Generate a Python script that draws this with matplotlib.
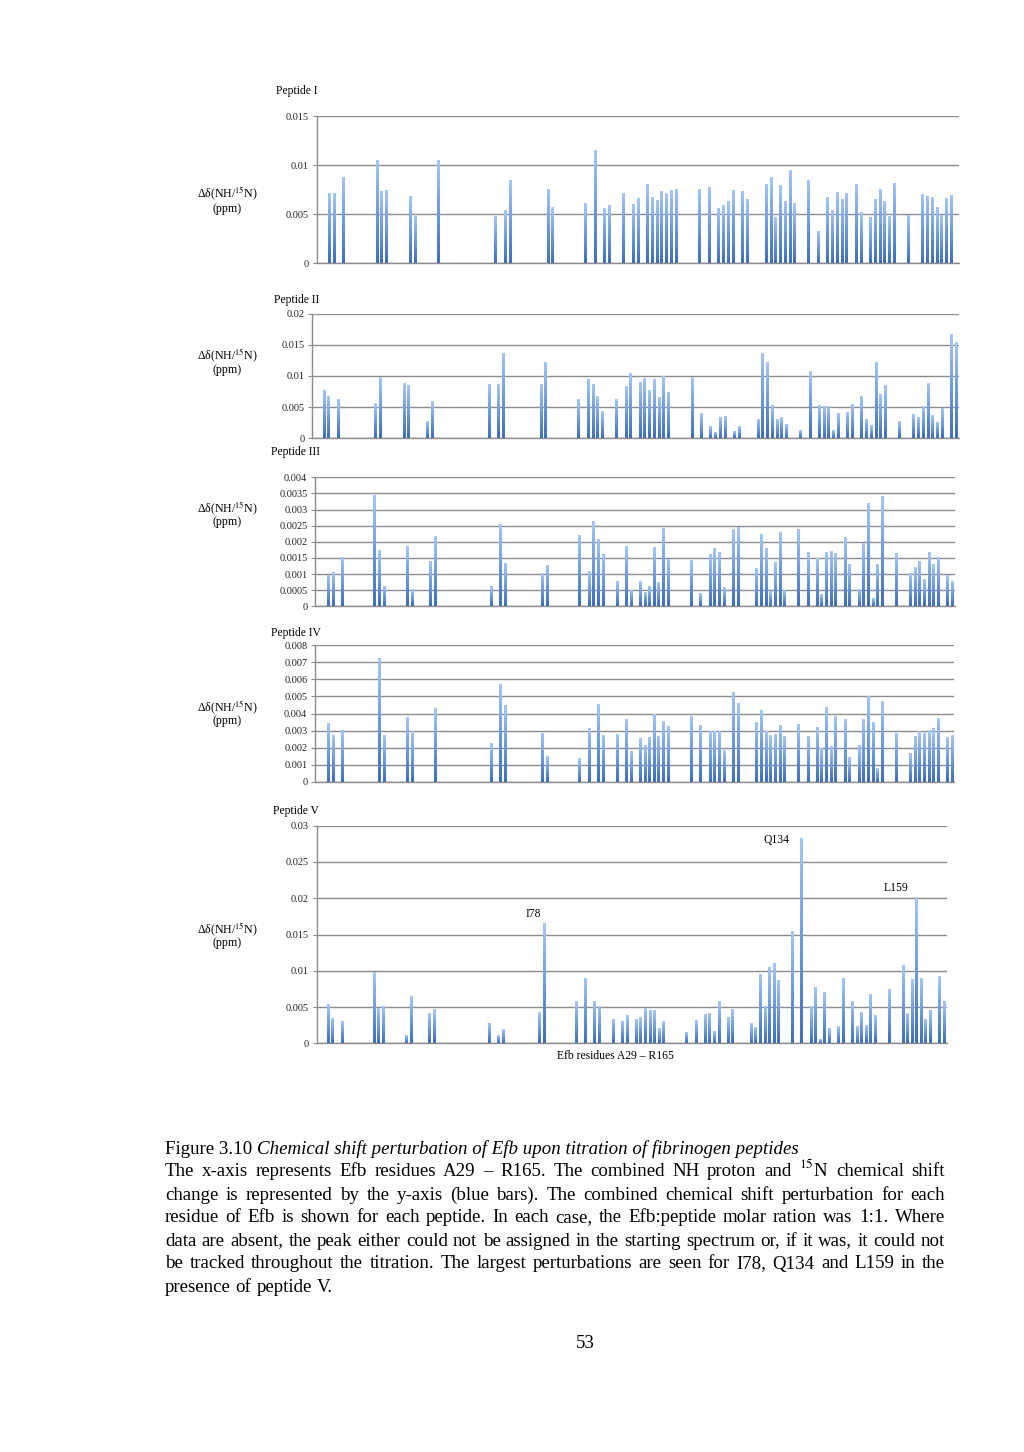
import numpy as np
import matplotlib
matplotlib.use('Agg')
import matplotlib.pyplot as plt
from matplotlib.colors import LinearSegmentedColormap

plt.rcParams['font.family'] = ['Liberation Serif', 'DejaVu Serif']
plt.rcParams['mathtext.fontset'] = 'stix'

# ---------------- data (Efb residue number, chemical shift perturbation in ppm) ----------------
res_I = [31, 32, 34, 41, 42, 43, 48, 49, 54, 66, 68, 69, 77, 78, 85, 87, 89, 90, 93, 95, 96,
         98, 99, 100, 101, 102, 103, 104, 109, 111, 113, 114, 115, 116, 118, 119,
         123, 124, 125, 126, 127, 128, 129, 132, 134, 136, 137, 138, 139, 140, 142, 143,
         145, 146, 147, 148, 149, 150, 153, 156, 157, 158, 159, 160, 161, 162]
val_I = [0.00706, 0.00706, 0.00869, 0.01042, 0.00726, 0.00736, 0.00675, 0.00472, 0.01042,
         0.00472, 0.00533, 0.00838, 0.00747, 0.00563, 0.00604, 0.01144, 0.00553, 0.00584,
         0.00706, 0.00594, 0.00655, 0.00797, 0.00665, 0.00635, 0.00726, 0.00706, 0.00736,
         0.00747, 0.00747, 0.00767, 0.00553, 0.00584, 0.00624, 0.00736, 0.00726, 0.00645,
         0.00797, 0.00869, 0.00462, 0.00787, 0.00624, 0.0094, 0.00604, 0.00838, 0.00319,
         0.00665, 0.00533, 0.00716, 0.00645, 0.00706, 0.00797, 0.00512, 0.00462, 0.00645,
         0.00747, 0.00624, 0.00472, 0.00808, 0.00482, 0.00696, 0.00675, 0.00665, 0.00563,
         0.00482, 0.00655, 0.00686]

res_II = [31, 32, 34, 42, 43, 48, 49, 53, 54, 66, 68, 69, 77, 78, 85, 87, 88, 89, 90, 93, 95,
          96, 98, 99, 100, 101, 102, 103, 104, 109, 111, 113, 114, 115, 116, 118, 119,
          123, 124, 125, 126, 127, 128, 129, 132, 134, 136, 137, 138, 139, 140, 142, 143,
          145, 146, 147, 148, 149, 150, 153, 156, 157, 158, 159, 160, 161, 162, 164, 165]
val_II = [0.00759, 0.00663, 0.00615, 0.00551, 0.00968, 0.00872, 0.0084, 0.00262, 0.00583,
          0.00856, 0.00856, 0.01353, 0.00856, 0.01209, 0.00615, 0.00936, 0.00856, 0.00663,
          0.00422, 0.00615, 0.00824, 0.01032, 0.00888, 0.00952, 0.00759, 0.00936, 0.00647,
          0.00984, 0.00727, 0.00968, 0.0039, 0.00182, 0.00086, 0.00326, 0.00342, 0.00102,
          0.00182, 0.00294, 0.01353, 0.01209, 0.00519, 0.00294, 0.00326, 0.00214, 0.00118,
          0.01064, 0.00519, 0.00503, 0.00503, 0.00118, 0.0039, 0.00406, 0.00535, 0.00663,
          0.00294, 0.00198, 0.01209, 0.00695, 0.0084, 0.00262, 0.00374, 0.00326, 0.00503,
          0.00872, 0.00358, 0.00246, 0.00471, 0.01658, 0.0153]

res_III = [31, 32, 34, 41, 42, 43, 48, 49, 53, 54, 66, 68, 69, 77, 78, 85, 87, 88, 89, 90, 93,
           95, 96, 98, 99, 100, 101, 102, 103, 104, 109, 111, 113, 114, 115, 116, 118, 119,
           123, 124, 125, 126, 127, 128, 129, 132, 134, 136, 137, 138, 139, 140, 142, 143,
           145, 146, 147, 148, 149, 150, 153, 156, 157, 158, 159, 160, 161, 162, 164, 165]
val_III = [0.00094, 0.00103, 0.0015, 0.00342, 0.00172, 0.0006, 0.00184, 0.00051, 0.00137,
           0.00215, 0.0006, 0.00252, 0.00131, 0.001, 0.00125, 0.00218, 0.00106, 0.00261,
           0.00206, 0.00159, 0.00075, 0.00184, 0.00048, 0.00075, 0.00041, 0.0006, 0.00181,
           0.00072, 0.0024, 0.00144, 0.00141, 0.00038, 0.00159, 0.00178, 0.00165, 0.00057,
           0.00237, 0.00243, 0.00116, 0.00221, 0.00178, 0.00044, 0.00134, 0.00227, 0.00048,
           0.00237, 0.00165, 0.00147, 0.00035, 0.00165, 0.00168, 0.00162, 0.00212, 0.00128,
           0.00051, 0.00193, 0.00317, 0.00023, 0.00128, 0.00339, 0.00162, 0.001, 0.00119,
           0.00137, 0.00082, 0.00165, 0.00128, 0.0015, 0.00094, 0.00075]

res_IV = [31, 32, 34, 42, 43, 48, 49, 54, 66, 68, 69, 77, 78, 85, 87, 89, 90, 93, 95, 96,
          98, 99, 100, 101, 102, 103, 104, 109, 111, 113, 114, 115, 116, 118, 119,
          123, 124, 125, 126, 127, 128, 129, 132, 134, 136, 137, 138, 139, 140, 142, 143,
          145, 146, 147, 148, 149, 150, 153, 156, 157, 158, 159, 160, 161, 162, 164, 165]
val_IV = [0.00344, 0.00274, 0.00303, 0.00726, 0.00274, 0.00379, 0.00297, 0.00432, 0.00227,
          0.00573, 0.0045, 0.00286, 0.00151, 0.00139, 0.00315, 0.00456, 0.00274, 0.0028,
          0.00368, 0.0018, 0.00256, 0.00215, 0.00262, 0.00397, 0.00268, 0.00356, 0.00327,
          0.00385, 0.00333, 0.00297, 0.00297, 0.00297, 0.00186, 0.00526, 0.00462, 0.0035,
          0.00421, 0.00297, 0.00274, 0.0028, 0.00333, 0.00268, 0.00338, 0.00268, 0.00321,
          0.00198, 0.00438, 0.00209, 0.00385, 0.00368, 0.00145, 0.00215, 0.00368, 0.00503,
          0.0035, 0.0008, 0.00473, 0.00286, 0.00168, 0.00268, 0.00297, 0.00286, 0.00303,
          0.00315, 0.00374, 0.00262, 0.00274]

res_V = [31, 32, 34, 41, 42, 43, 48, 49, 53, 54, 66, 68, 69, 77, 78, 85, 87, 89, 90, 93, 95,
         96, 98, 99, 100, 101, 102, 103, 104, 109, 111, 113, 114, 115, 116, 118, 119,
         123, 124, 125, 126, 127, 128, 129, 132, 134, 136, 137, 138, 139, 140, 142, 143,
         145, 146, 147, 148, 149, 150, 153, 156, 157, 158, 159, 160, 161, 162, 164, 165]
val_V = [0.00528, 0.00335, 0.00294, 0.00969, 0.00469, 0.00501, 0.0011, 0.00639, 0.00413,
         0.00459, 0.00266, 0.00101, 0.00184, 0.00423, 0.01645, 0.0057, 0.00887, 0.00579,
         0.00505, 0.00322, 0.00294, 0.00377, 0.00322, 0.00345, 0.00469, 0.00446, 0.00446,
         0.00198, 0.00294, 0.00138, 0.00308, 0.0039, 0.004, 0.00156, 0.0057, 0.00349,
         0.00459, 0.00266, 0.00211, 0.00942, 0.00501, 0.01038, 0.01093, 0.00859, 0.01544,
         0.02816, 0.00501, 0.00763, 0.00055, 0.00694, 0.00198, 0.00225, 0.00887, 0.00579,
         0.00225, 0.00418, 0.00239, 0.00666, 0.00377, 0.00735, 0.01066, 0.00404, 0.00873,
         0.02003, 0.00887, 0.00322, 0.00446, 0.00914, 0.0057]

ticks_I = [0, 0.005, 0.01, 0.015]
ticklab_I = ['0', '0.005', '0.01', '0.015']
ticks_II = [0, 0.005, 0.01, 0.015, 0.02]
ticklab_II = ['0', '0.005', '0.01', '0.015', '0.02']
ticks_III = [0, 0.0005, 0.001, 0.0015, 0.002, 0.0025, 0.003, 0.0035, 0.004]
ticklab_III = ['0', '0.0005', '0.001', '0.0015', '0.002', '0.0025', '0.003', '0.0035', '0.004']
ticks_IV = [0, 0.001, 0.002, 0.003, 0.004, 0.005, 0.006, 0.007, 0.008]
ticklab_IV = ['0', '0.001', '0.002', '0.003', '0.004', '0.005', '0.006', '0.007', '0.008']
ticks_V = [0, 0.005, 0.01, 0.015, 0.02, 0.025, 0.03]
ticklab_V = ['0', '0.005', '0.01', '0.015', '0.02', '0.025', '0.03']

titles = ['Peptide I', 'Peptide II', 'Peptide III', 'Peptide IV', 'Peptide V']
highlights = [(78, 'I78'), (134, 'Q134'), (159, 'L159')]

# ---------------- figure ----------------
W, H = 1024, 1452
fig = plt.figure(figsize=(W / 100, H / 100), dpi=100)

def fx(x):
    return x / W

def fy(y):
    return 1 - y / H

def axes_px(left, right, top, bottom):
    return fig.add_axes([fx(left), fy(bottom), (right - left) / W, (bottom - top) / H])

cmap = LinearSegmentedColormap.from_list('bar', ['#3f6ebf', '#6f9be0', '#a6c6f3'])
grad = np.linspace(0, 1, 64).reshape(-1, 1)
GRID = '#8c8c8c'

panels = [
    (res_I, val_I, ticks_I, ticklab_I, (28.26, 163.62), (316.7, 959, 116, 263.3), (276, 91), (193, 209)),
    (res_II, val_II, ticks_II, ticklab_II, (28.52, 165.57), (312.3, 959, 313.7, 438.3), (274, 300), (355, 370)),
    (res_III, val_III, ticks_III, ticklab_III, (28.14, 165.58), (315, 955, 477.3, 606.3), (271, 452), (508, 522)),
    (res_IV, val_IV, ticks_IV, ticklab_IV, (28.14, 165.43), (315, 954.3, 645.3, 781.7), (271, 633), (707, 721)),
    (res_V, val_V, ticks_V, ticklab_V, (28.48, 165.52), (316.7, 946.7, 825.7, 1043.3), (273, 811), (929, 943)),
]

axes = []
for i, (res, val, tks, tkl, xl, box, tpos, ypos) in enumerate(panels):
    assert len(res) == len(val), (i, len(res), len(val))
    ax = axes_px(*box)
    bars = ax.bar(res, val, width=0.62, color='none', edgecolor='none', zorder=3)
    for p in bars:
        x0, w, h = p.get_x(), p.get_width(), p.get_height()
        ax.imshow(grad, extent=(x0, x0 + w, 0, h), origin='lower', aspect='auto',
                  cmap=cmap, zorder=3, interpolation='bilinear')
    ax.set_xlim(*xl)
    ax.set_ylim(0, tks[-1])
    ax.set_yticks(tks)
    ax.set_yticklabels(tkl)
    ax.set_xticks([])
    ax.yaxis.grid(True, color=GRID, lw=1.0)
    ax.set_axisbelow(True)
    for s in ['top', 'right']:
        ax.spines[s].set_visible(False)
    for s in ['left', 'bottom']:
        ax.spines[s].set_color(GRID)
        ax.spines[s].set_linewidth(1.0)
    ax.tick_params(axis='y', length=3, width=0.8, color=GRID, pad=2.5, labelsize=7.4,
                   labelcolor='#222222')
    fig.text(fx(tpos[0]), fy(tpos[1]), titles[i], ha='left', va='center', fontsize=8.4)
    fig.text(fx(227), fy(ypos[0]), 'Δδ(NH/$^{15}$N)', ha='center', va='center', fontsize=8.6)
    fig.text(fx(227), fy(ypos[1]), '(ppm)', ha='center', va='center', fontsize=8.6)
    axes.append(ax)

axV = axes[-1]
offsets = {'I78': (-8, 7), 'Q134': (-18, -1), 'L159': (-15, 7)}
for r, lab in highlights:
    v = val_V[res_V.index(r)]
    axV.annotate(lab, xy=(r, v), xytext=offsets[lab], textcoords='offset points',
                 ha='center', va='center', fontsize=8.4)

fig.text(fx(615), fy(1056), 'Efb residues A29 – R165', ha='center', va='center', fontsize=8.4)

# ---------------- caption ----------------
renderer = fig.canvas.get_renderer()
FS = 13.6

def width_of(s, **kw):
    t = fig.text(0, 0, s, fontsize=FS, **kw)
    w = t.get_window_extent(renderer).width
    t.remove()
    return w

X0, X1 = 165, 945
space_w = width_of('a a') - width_of('aa')

# first line: regular + italic
base1 = 1154
fig.text(fx(X0), fy(base1), 'Figure 3.10', fontsize=FS, va='baseline', ha='left')
wfig = width_of('Figure 3.10')
fig.text(fx(X0 + wfig + space_w), fy(base1),
         'Chemical shift perturbation of Efb upon titration of fibrinogen peptides',
         fontsize=FS, style='italic', va='baseline', ha='left')

body = [
    ('The x-axis represents Efb residues A29 – R165. The combined NH proton and $^{15}$N chemical shift', True),
    ('change is represented by the y-axis (blue bars). The combined chemical shift perturbation for each', True),
    ('residue of Efb is shown for each peptide. In each case, the Efb:peptide molar ration was 1:1. Where', True),
    ('data are absent, the peak either could not be assigned in the starting spectrum or, if it was, it could not', True),
    ('be tracked throughout the titration. The largest perturbations are seen for I78, Q134 and L159 in the', True),
    ('presence of peptide V.', False),
]
baselines = [1176.5, 1199.5, 1222.5, 1245.5, 1268.5, 1291.5]
for (line, just), yb in zip(body, baselines):
    words = line.split(' ')
    ws = [width_of(w) for w in words]
    if just and len(words) > 1:
        gap = (X1 - X0 - sum(ws)) / (len(words) - 1)
    else:
        gap = space_w
    x = X0
    for w, wd in zip(words, ws):
        fig.text(fx(x), fy(yb), w, fontsize=FS, va='baseline', ha='left')
        x += wd + gap

fig.text(fx(585), fy(1343), '53', fontsize=FS, ha='center', va='center')

fig.savefig('out.png', dpi=100)
